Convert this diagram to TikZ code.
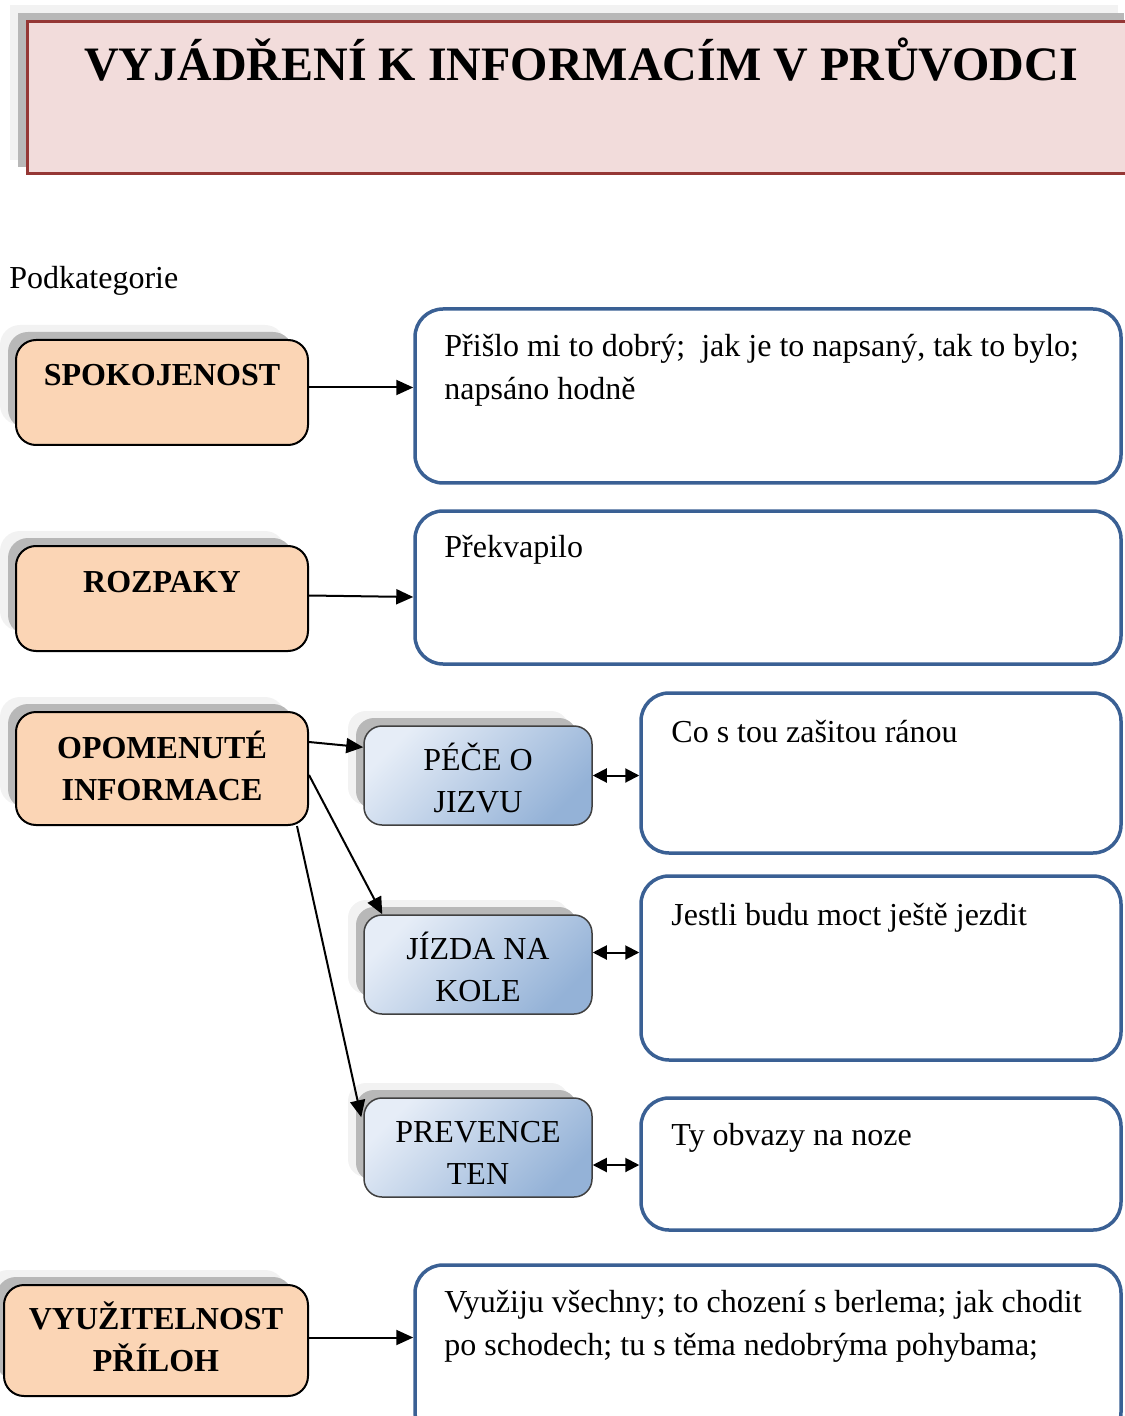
\documentclass[tikz,border=0pt]{standalone}
\usepackage{fontspec}
\setmainfont{Liberation Serif}
\usetikzlibrary{arrows.meta,calc}
\definecolor{titlefill}{HTML}{F2DCDB}
\definecolor{titleline}{HTML}{953735}
\definecolor{peach}{HTML}{FBD5B5}
\definecolor{frameblue}{HTML}{3A6094}
\definecolor{shadelight}{HTML}{F2F2F2}
\definecolor{shadedark}{HTML}{B8B8B8}
\definecolor{blueA}{HTML}{E6EDF7}
\definecolor{blueB}{HTML}{94B2D7}
\definecolor{blueline}{HTML}{404040}

% two-layer soft shadow behind a box: {x0}{y0}{x1}{y1}{radius}
\newcommand\boxshadow[5]{%
  \fill[shadelight, rounded corners=#5] (#1-16,#2-15) rectangle (#3-23,#4-20);
  \fill[shadedark, rounded corners=#5] (#1-8,#2-8) rectangle (#3-15,#4-16);
}

\begin{document}
\begin{tikzpicture}[x=0.5pt,y=-0.5pt,
  catbox/.style={draw=black, line width=1pt, fill=peach, rounded corners=10pt, inner sep=0pt},
  subbox/.style={draw=blueline, line width=0.75pt, top color=blueA, bottom color=blueB,
                 shading angle=45, rounded corners=9pt, inner sep=0pt,
                 minimum width=114pt, minimum height=49.5pt},
  quotebox/.style={draw=frameblue, line width=1.75pt, fill=white, rounded corners=14pt, inner sep=0pt},
  lbl/.style={font=\fontsize{16}{21.5}\selectfont\bfseries, inner sep=0pt, anchor=base},
  sublbl/.style={font=\fontsize{16}{21.5}\selectfont, inner sep=0pt, anchor=base},
  quote/.style={font=\fontsize{16}{21.5}\selectfont, inner sep=0pt, anchor=base west},
  arr/.style={line width=1pt, -{Triangle[length=8.5pt,width=7.5pt]}},
  darr/.style={line width=1pt, {Triangle[length=7pt,width=7pt]}-{Triangle[length=7pt,width=7pt]}}
]
\useasboundingbox (0,0) rectangle (1124,1416);

% heading banner
\fill[shadelight] (10,5) rectangle (1118,160);
\fill[shadedark] (18,13) rectangle (1124,167);
\node[draw=titleline, line width=1.5pt, fill=titlefill, inner sep=0pt,
      minimum width=556.5pt, minimum height=76pt] (title) at (583.5,98) {};
\node[font=\fontsize{24}{28}\selectfont\bfseries, inner sep=0pt, anchor=base]
      (titletext) at (581,81) {VYJÁDŘENÍ K INFORMACÍM V PRŮVODCI};

\node[font=\fontsize{16}{21.5}\selectfont, inner sep=0pt, anchor=base west]
      (podkat) at (9,289) {Podkategorie};

% category boxes
\boxshadow{16}{340}{308}{445}{10pt}
\node[catbox, minimum width=146pt, minimum height=52.5pt] (spok) at (162,392.5) {};
\node[lbl] (spoklbl) at (162,386) {SPOKOJENOST};

\boxshadow{16}{546}{308}{651}{10pt}
\node[catbox, minimum width=146pt, minimum height=52.5pt] (rozp) at (162,598.5) {};
\node[lbl] (rozplbl) at (162,592) {ROZPAKY};

\boxshadow{16}{712}{308}{825}{10pt}
\node[catbox, minimum width=146pt, minimum height=56.5pt] (opo) at (162,768.5) {};
\node[lbl] (opolbl1) at (162,758) {OPOMENUTÉ};
\node[lbl] (opolbl2) at (162,800) {INFORMACE};

\boxshadow{4}{1285}{308}{1396}{10pt}
\node[catbox, minimum width=152pt, minimum height=55.5pt] (vyuz) at (156,1340.5) {};
\node[lbl] (vyuzlbl1) at (156,1329) {VYUŽITELNOST};
\node[lbl] (vyuzlbl2) at (156,1371) {PŘÍLOH};

% sub-category boxes
\boxshadow{364}{726}{592}{825}{9pt}
\node[subbox] (pece) at (478,775.5) {};
\node[sublbl] (pecelbl1) at (478,770) {PÉČE O};
\node[sublbl] (pecelbl2) at (478,812) {JIZVU};

\boxshadow{364}{915}{592}{1014}{9pt}
\node[subbox] (jizda) at (478,964.5) {};
\node[sublbl] (jizdalbl1) at (478,959) {JÍZDA NA};
\node[sublbl] (jizdalbl2) at (478,1001) {KOLE};

\boxshadow{364}{1098}{592}{1197}{9pt}
\node[subbox] (prev) at (478,1147.5) {};
\node[sublbl] (prevlbl1) at (478,1142) {PREVENCE};
\node[sublbl] (prevlbl2) at (478,1184) {TEN};

% statement boxes
\node[quotebox, minimum width=353pt, minimum height=87pt] (r1) at (768,396) {};
\node[quote] (q1a) at (444,357) {Přišlo mi to dobrý;\ \ jak je to napsaný, tak to bylo;};
\node[quote] (q1b) at (444,400) {napsáno hodně};

\node[quotebox, minimum width=353pt, minimum height=76.5pt] (r2) at (768,587.5) {};
\node[quote] (q2) at (444,557) {Překvapilo};

\node[quotebox, minimum width=240pt, minimum height=80pt] (r3) at (881,773) {};
\node[quote] (q3) at (671,742) {Co s tou zašitou ránou};

\node[quotebox, minimum width=240pt, minimum height=92pt] (r4) at (881,968) {};
\node[quote] (q4) at (671,925) {Jestli budu moct ještě jezdit};

\node[quotebox, minimum width=240pt, minimum height=66pt] (r5) at (881,1164) {};
\node[quote] (q5) at (671,1145) {Ty obvazy na noze};

\node[quotebox, minimum width=353pt, minimum height=87.5pt] (r6) at (768,1352.5) {};
\node[quote] (q6a) at (444,1312) {Využiju všechny; to chození s berlema; jak chodit};
\node[quote] (q6b) at (444,1355) {po schodech; tu s těma nedobrýma pohybama;};

% connectors
\coordinate (spokmid) at ($(spok.east)+(0,-5)$);
\draw[arr] (spokmid) -- (spokmid -| r1.west);
\draw[arr] ($(rozp.east)+(0,-3)$) -- ($(r2.west)+(0,9.5)$);
\coordinate (vyuzmid) at ($(vyuz.east)+(0,-3)$);
\draw[arr] (vyuzmid) -- (vyuzmid -| r6.west);

\draw[arr] ($(opo.north east)+(0,31)$) -- ($(pece.north west)+(0,22)$);
\draw[arr] ($(opo.north east)+(0,64)$) -- ($(jizda.north west)+(19,0)$);
\draw[arr] ($(opo.south east)+(-12,0)$) -- ($(prev.north west)+(-2,20)$);

\coordinate (jzmid) at ($(jizda.east)+(0,-12)$);
\coordinate (pvmid) at ($(prev.east)+(0,17.5)$);
\draw[darr] (pece.east) -- (pece.east -| r3.west);
\draw[darr] (jzmid) -- (jzmid -| r4.west);
\draw[darr] (pvmid) -- (pvmid -| r5.west);
\end{tikzpicture}
\end{document}
